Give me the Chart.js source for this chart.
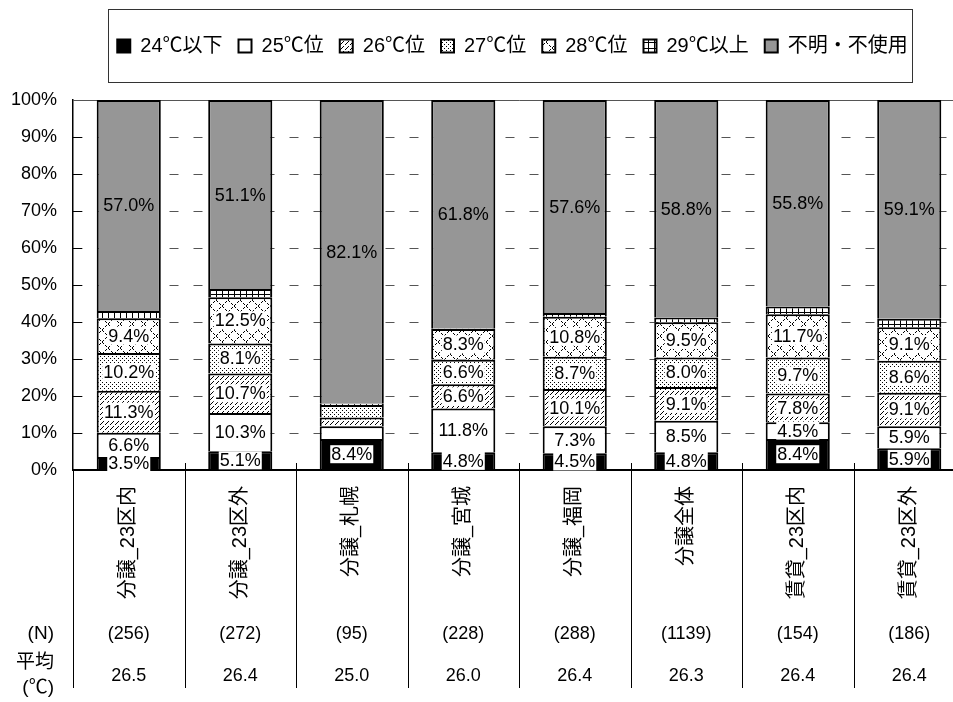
<!DOCTYPE html>
<html lang="ja">
<head>
<meta charset="utf-8">
<title>冷房設定温度</title>
<script src="https://cdn.jsdelivr.net/npm/chart.js@4.4.1/dist/chart.umd.min.js"></script>
<style>
  html, body { margin: 0; padding: 0; overflow: hidden; background: #fff; }
  #wrap { width: 965px; height: 702px; }
</style>
</head>
<body>
<div id="wrap"><canvas id="myChart" width="965" height="702"></canvas></div>
<script>
const categories = ["分譲_23区内", "分譲_23区外", "分譲_札幌", "分譲_宮城", "分譲_福岡", "分譲全体", "賃貸_23区内", "賃貸_23区外"];
const seriesNames = ["24℃以下", "25℃位", "26℃位", "27℃位", "28℃位", "29℃以上", "不明・不使用"];

const below24 = [3.5, 5.1, 8.4, 4.8, 4.5, 4.8, 8.4, 5.9];
const temp25 = [6.6, 10.3, 3.4, 11.8, 7.3, 8.5, 4.5, 5.9];
const temp26 = [11.3, 10.7, 2.4, 6.6, 10.1, 9.1, 7.8, 9.1];
const temp27 = [10.2, 8.1, 3.4, 6.6, 8.7, 8.0, 9.7, 8.6];
const temp28 = [9.4, 12.5, 0.0, 8.3, 10.8, 9.5, 11.7, 9.1];
const above29 = [2.0, 2.2, 0.3, 0.1, 1.0, 1.3, 2.1, 2.3];
const unknown = [57.0, 51.1, 82.1, 61.8, 57.6, 58.8, 55.8, 59.1];

const sampleN = [256, 272, 95, 228, 288, 1139, 154, 186];
const averages = ["26.5", "26.4", "25.0", "26.0", "26.4", "26.3", "26.4", "26.4"];
const rowLabels = ["(N)", "平均", "(℃)"];

const fontFamily = '"Liberation Sans", "Noto Sans CJK JP", sans-serif';
Chart.defaults.font.family = fontFamily;
Chart.defaults.color = "#000";

// small tiles for the hatched fills
function makePattern(w, h, draw) {
  let c = document.createElement("canvas");
  c.width = w;
  c.height = h;
  let g = c.getContext("2d");
  g.fillStyle = "#fff";
  g.fillRect(0, 0, w, h);
  g.fillStyle = "#000";
  draw(g);
  return g.createPattern(c, "repeat");
}

let hatch26 = makePattern(5, 5, function(g) {
  for (let i = 0; i < 4; i++) g.fillRect(i, 4 - i, 1, 1);
});
let dots27 = makePattern(4, 4, function(g) {
  g.fillRect(0, 0, 1, 1);
  g.fillRect(2, 2, 1, 1);
});
let cross28 = makePattern(12, 12, function(g) {
  for (let i = 0; i < 12; i++) {
    if (i % 3 == 2) continue;
    g.fillRect(i, i, 1, 1);
    g.fillRect(i, 11 - i, 1, 1);
  }
});
let grid29 = makePattern(6, 6, function(g) {
  g.fillRect(0, 0, 6, 1);
  g.fillRect(0, 0, 1, 6);
});

let fills = ["#000000", "#ffffff", hatch26, dots27, cross28, grid29, "#969696"];
let values = [below24, temp25, temp26, temp27, temp28, above29, unknown];

let datasets = [];
for (let d = 0; d < seriesNames.length; d++) {
  datasets.push({
    label: seriesNames[d],
    data: values[d],
    backgroundColor: fills[d],
    borderColor: "#000",
    borderWidth: 2,
    barPercentage: 0.575,
    categoryPercentage: 1
  });
}

// legend sits off-centre in the original, over the plot rather than the canvas
const legendShift = {
  id: "legendShift",
  afterLayout(chart) {
    chart.legend.left = 60;
    chart.legend.width = chart.legend.right - 60;
  }
};

const barLabels = {
  id: "barLabels",
  afterDatasetsDraw(chart) {
    let ctx = chart.ctx;
    ctx.save();
    ctx.font = "18px " + fontFamily;
    ctx.textAlign = "center";
    ctx.textBaseline = "middle";
    chart.data.datasets.forEach(function(ds, d) {
      let meta = chart.getDatasetMeta(d);
      meta.data.forEach(function(bar, i) {
        let v = ds.data[i];
        if (d == 5 || (d < 5 && v < 3.5)) return;
        let text = v.toFixed(1) + "%";
        let y = (bar.y + bar.base) / 2;
        if (d < 6) {
          let w = ctx.measureText(text).width + 2;
          ctx.fillStyle = "#fff";
          ctx.fillRect(bar.x - w / 2, y - 9, w, 18);
        }
        ctx.fillStyle = "#000";
        ctx.fillText(text, bar.x, y + 1);
      });
    });
    ctx.restore();
  }
};

const tableAndFrame = {
  id: "tableAndFrame",
  afterDraw(chart) {
    let ctx = chart.ctx;
    let xs = chart.scales.x;
    let ys = chart.scales.y;
    let area = chart.chartArea;
    let half = (xs.getPixelForValue(1) - xs.getPixelForValue(0)) / 2;
    ctx.save();

    // inside ticks on the value axis
    ctx.strokeStyle = "#000";
    ctx.lineWidth = 1;
    for (let v = 10; v < 100; v += 10) {
      let y = Math.round(ys.getPixelForValue(v)) + 0.5;
      ctx.beginPath();
      ctx.moveTo(area.left, y);
      ctx.lineTo(area.left + 9, y);
      ctx.stroke();
    }

    // column dividers running down through the table
    for (let i = 0; i <= categories.length; i++) {
      let x = Math.round(xs.getPixelForValue(i) - half) + 0.5;
      ctx.beginPath();
      ctx.moveTo(x, i == 0 ? area.bottom : area.bottom - 7);
      ctx.lineTo(x, 688);
      ctx.stroke();
    }

    // N and averages
    ctx.textBaseline = "middle";
    ctx.textAlign = "center";
    ctx.font = "18px " + fontFamily;
    for (let i = 0; i < categories.length; i++) {
      let x = xs.getPixelForValue(i);
      ctx.fillText("(" + sampleN[i] + ")", x, 634);
      ctx.fillText(averages[i], x, 676);
    }
    ctx.textAlign = "right";
    ctx.font = "19px " + fontFamily;
    ctx.fillText(rowLabels[0], 54, 634);
    ctx.fillText(rowLabels[1], 54, 663);
    ctx.fillText(rowLabels[2], 54, 688);

    // frame round the legend
    let lg = chart.legend;
    let pad = lg.options.labels.padding;
    let w = lg.lineWidths[0] - pad;
    let cx = (lg.left + lg.right) / 2;
    let cy = lg.top + pad + 10;
    ctx.strokeStyle = "#333";
    ctx.strokeRect(Math.round(cx - w / 2 - 9) + 0.5, Math.round(cy - 37) + 0.5, Math.round(w + 14), 73);
    ctx.restore();
  }
};

new Chart("myChart", {
  type: "bar",
  data: {
    labels: categories,
    datasets: datasets
  },
  options: {
    responsive: false,
    animation: false,
    layout: { padding: { top: 20, left: 0, right: 0, bottom: 0 } },
    plugins: {
      legend: {
        position: "top",
        labels: {
          boxWidth: 13,
          boxHeight: 13,
          padding: 16,
          color: "#000",
          font: { size: 20 }
        }
      },
      // empty title used as a spacer between legend and plot
      title: {
        display: true,
        text: " ",
        weight: 100,
        font: { size: 10, lineHeight: 1 },
        padding: { top: 0, bottom: 24 }
      },
      tooltip: { enabled: false }
    },
    scales: {
      x: {
        stacked: true,
        grid: { display: false, drawTicks: false },
        border: { color: "#000", width: 1.5 },
        ticks: {
          color: "#000",
          font: { size: 20 },
          minRotation: 90,
          maxRotation: 90,
          autoSkip: false,
          padding: 16
        },
        afterFit: function(s) { s.height = 232; }
      },
      y: {
        stacked: true,
        min: 0,
        max: 100,
        ticks: {
          stepSize: 10,
          color: "#000",
          font: { size: 18 },
          padding: 16,
          callback: function(v) { return v + "%"; }
        },
        grid: {
          drawTicks: false,
          lineWidth: 1,
          color: function(c) { return c.tick && c.tick.value == 0 ? "#000" : "#555"; }
        },
        border: {
          color: "#000",
          width: 1.5,
          dash: function(c) {
            return (!c.tick || c.tick.value == 0 || c.tick.value == 100) ? [] : [9, 15];
          }
        },
        afterFit: function(s) { s.width = 73; }
      }
    }
  },
  plugins: [legendShift, barLabels, tableAndFrame]
});
</script>
</body>
</html>
